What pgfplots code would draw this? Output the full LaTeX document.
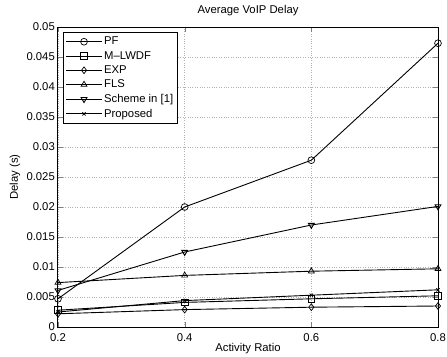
\documentclass[border=0pt]{standalone}
\usepackage{fontspec}
\setmainfont{Liberation Sans}
\usepackage{pgfplots}
\pgfplotsset{compat=1.18}
\begin{document}
\begin{tikzpicture}
\begin{axis}[
  name=main,
  scale only axis,
  width=380pt, height=300pt,
  xmin=0.2, xmax=0.8, ymin=0, ymax=0.05,
  xtick={0.2,0.4,0.6,0.8},
  ytick={0,0.005,...,0.05},
  scaled y ticks=false,
  yticklabel style={/pgf/number format/fixed,/pgf/number format/precision=3, inner sep=0pt, xshift=-3pt},
  xticklabel style={/pgf/number format/fixed,/pgf/number format/precision=1, inner sep=0pt, yshift=-6pt},
  /pgf/number format/assume math mode=true,
  tick label style={font=\fontsize{11.3}{13}\selectfont},
  label style={font=\fontsize{11.3}{13}\selectfont},
  every axis title shift=0pt,
  title style={font=\fontsize{11.3}{13}\selectfont, inner sep=0pt, at={(axis description cs:0.5,1.055)}, anchor=center},
  title={Average VoIP Delay},
  xlabel={Activity Ratio},
  ylabel={Delay (s)},
  xlabel style={inner sep=0pt, at={(axis description cs:0.5,-0.0733)}, anchor=center},
  ylabel style={inner sep=0pt, at={(axis description cs:-0.113,0.5)}, anchor=center},
  grid=major,
  major grid style={dotted, gray!60, line width=0.6pt},
  tick align=inside,
  major tick length=5pt,
  axis line style={line width=1pt},
  cycle list={{black}},
  every axis plot/.append style={line width=0.9pt, black, mark size=3.4pt, mark options={solid, fill=none, line width=0.7pt}},
  legend style={at={(0.013,0.983)}, anchor=north west, font=\fontsize{11.3}{13}\selectfont, draw=black, line width=1pt, row sep=1pt, inner sep=2.5pt},
  legend cell align=left,
  legend image code/.code={\draw[mark repeat=2,mark phase=2] plot coordinates {(0cm,0cm) (0.62cm,0cm) (1.24cm,0cm)};},
]
\addplot[mark=o] coordinates {(0.2,0.0047) (0.4,0.0200) (0.6,0.0278) (0.8,0.0473)};
\addlegendentry{PF}
\addplot[mark=square] coordinates {(0.2,0.0028) (0.4,0.0041) (0.6,0.0047) (0.8,0.0052)};
\addlegendentry{M--LWDF}
\addplot[mark=diamond] coordinates {(0.2,0.0022) (0.4,0.0029) (0.6,0.0033) (0.8,0.0035)};
\addlegendentry{EXP}
\addplot[mark=triangle] coordinates {(0.2,0.0074) (0.4,0.0086) (0.6,0.0093) (0.8,0.0097)};
\addlegendentry{FLS}
\addplot[mark=triangle, mark options={rotate=180, fill=none}] coordinates {(0.2,0.0061) (0.4,0.0125) (0.6,0.0170) (0.8,0.0201)};
\addlegendentry{Scheme in [1]}
\addplot[mark=x, mark size=2.3pt] coordinates {(0.2,0.0025) (0.4,0.0044) (0.6,0.0053) (0.8,0.0062)};
\addlegendentry{Proposed}
\end{axis}
\useasboundingbox (main.south west) ++(-58pt,-29pt) rectangle ([xshift=9pt,yshift=27pt]main.north east);
\end{tikzpicture}
\end{document}
